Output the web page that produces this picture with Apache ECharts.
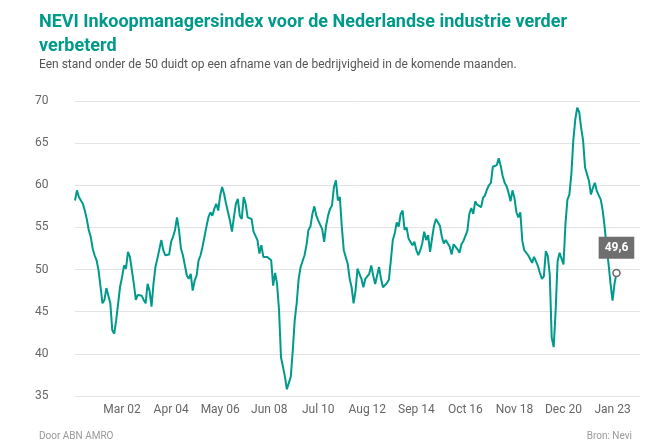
<!DOCTYPE html>
<html>
<head>
<meta charset="utf-8">
<script src="https://cdn.jsdelivr.net/npm/echarts@6/dist/echarts.min.js"></script>
<style>
  html, body { margin: 0; padding: 0; background: #fff; }
  #chart { width: 669px; height: 446px; }
</style>
</head>
<body>
<div id="chart"></div>
<script>
document.addEventListener('DOMContentLoaded', function() {

    const monthNames = ['Jan', 'Feb', 'Mar', 'Apr', 'May', 'Jun', 'Jul', 'Aug', 'Sep', 'Oct', 'Nov', 'Dec'];
    const startYear = 2000;
    const startMonth = 2; // March
    const extraMonths = 12; // empty room right of the line

    // NEVI PMI, monthly from Mar 2000
    const pmi = [
        58.2, 59.4, 58.6, 58.2, 57.8, 57.0, 56.0, 54.7, 53.9, 52.5, 51.7, 51.1, 49.9, 48.0, 46.0, 46.4, 47.8, 47.8, 46.0, 42.8,
        42.4, 44.0, 46.0, 48.0, 49.1, 50.5, 50.1, 52.1, 51.5, 51.3, 48.3, 46.4, 47.0, 46.8, 46.9, 46.4, 46.0, 48.3, 47.5, 45.6,
        48.3, 50.3, 51.3, 51.5, 53.5, 52.3, 51.7, 51.7, 51.8, 53.3, 53.9, 54.7, 56.2, 54.7, 52.5, 51.7, 51.5, 49.3, 48.9, 49.5,
        47.5, 48.7, 49.3, 51.1, 51.7, 52.7, 53.9, 55.1, 56.2, 56.8, 56.4, 57.2, 57.8, 57.0, 58.8, 59.8, 59.0, 57.8, 56.8, 55.8,
        54.5, 56.2, 57.8, 58.4, 56.4, 56.0, 58.6, 57.8, 56.2, 56.2, 56.0, 54.5, 54.3, 53.5, 51.9, 52.9, 51.5, 51.5, 51.5, 51.3,
        51.1, 48.1, 49.6, 48.3, 45.2, 39.6, 38.5, 37.3, 35.8, 35.6, 37.3, 40.4, 44.0, 46.0, 48.9, 50.3, 50.5, 51.7, 52.9, 54.7,
        55.1, 56.6, 57.5, 56.4, 55.8, 55.6, 54.8, 53.3, 55.2, 56.4, 57.2, 57.6, 59.8, 60.6, 58.2, 58.6, 55.1, 52.3, 51.5, 50.7,
        48.9, 47.9, 46.0, 47.5, 50.1, 49.5, 48.9, 47.9, 48.9, 49.1, 49.5, 50.5, 49.3, 48.3, 49.3, 50.3, 48.9, 47.9, 48.1, 48.4,
        48.8, 51.1, 53.5, 54.3, 55.6, 55.1, 56.6, 57.0, 54.7, 55.0, 53.7, 53.5, 52.9, 53.3, 52.3, 51.7, 52.3, 53.1, 54.5, 53.5,
        54.1, 52.1, 53.7, 55.2, 56.0, 56.2, 55.2, 53.9, 53.1, 53.5, 53.3, 52.7, 51.8, 53.0, 53.0, 52.4, 52.0, 53.0, 53.4, 53.3,
        54.6, 56.6, 57.3, 56.6, 58.1, 57.7, 57.6, 57.4, 58.5, 58.8, 59.5, 60.0, 60.3, 62.2, 62.1, 62.4, 63.2, 62.3, 61.1, 60.3,
        59.9, 59.1, 58.1, 59.4, 58.5, 56.8, 56.2, 56.8, 53.4, 52.3, 52.2, 51.7, 51.6, 50.8, 51.5, 51.5, 50.4, 49.6, 48.9, 49.2,
        52.2, 51.6, 49.4, 41.9, 40.8, 45.1, 51.0, 52.0, 51.8, 50.6, 55.4, 58.3, 58.9, 61.3, 65.3, 67.8, 69.2, 68.7, 66.8, 65.3,
        62.1, 62.1, 60.5, 58.9, 59.7, 60.3, 59.3, 59.3, 58.3, 57.0, 55.0, 52.6, 50.6, 48.3, 46.3, 48.3, 49.6
    ];

    const months = [];
    for (let i = 0; i < pmi.length + extraMonths; i++) {
        const m = startMonth + i;
        const y = startYear + Math.floor(m / 12);
        months.push(monthNames[m % 12] + ' ' + String(y % 100).padStart(2, '0'));
    }

    const teal = '#009a8a';
    const last = pmi.length - 1;

    const seriesData = pmi.map((v, i) => i !== last ? v : {
        value: v,
        symbol: 'circle',
        symbolSize: 7,
        itemStyle: { color: '#fff', borderColor: '#666', borderWidth: 1.5 },
        label: {
            show: true,
            position: 'top',
            distance: 10,
            formatter: () => String(v).replace('.', ','),
            backgroundColor: '#6f6f6f',
            color: '#fff',
            fontWeight: 'bold',
            fontSize: 12,
            padding: [5, 6]
        }
    });

    const chart = echarts.init(document.getElementById('chart'));
    chart.setOption({
        animation: false,
        textStyle: { fontFamily: 'Roboto, Arial, sans-serif' },
        title: [{
            text: 'NEVI Inkoopmanagersindex voor de Nederlandse industrie verder\nverbeterd',
            left: 34, top: 5,
            textStyle: { color: teal, fontSize: 18, fontWeight: 'bold', lineHeight: 24 }
        }, {
            text: 'Een stand onder de 50 duidt op een afname van de bedrijvigheid in de komende maanden.',
            left: 34, top: 54,
            textStyle: { color: '#555', fontSize: 12, fontWeight: 'normal' }
        }, {
            text: 'Door ABN AMRO',
            left: 34, top: 426,
            textStyle: { color: '#999', fontSize: 10, fontWeight: 'normal' }
        }, {
            text: 'Bron: Nevi',
            right: 32, top: 426,
            textStyle: { color: '#999', fontSize: 10, fontWeight: 'normal' }
        }],
        grid: { left: 75, right: 29, top: 101, bottom: 50 },
        xAxis: {
            type: 'category',
            data: months,
            boundaryGap: false,
            axisLine: { show: false },
            axisTick: { show: false },
            axisLabel: {
                color: '#666',
                fontSize: 12,
                margin: 8,
                interval: (i) => i >= 24 && i <= last && (i - 24) % 25 === 0
            }
        },
        yAxis: {
            type: 'value',
            min: 35, max: 70, interval: 5,
            axisLabel: { color: '#666', fontSize: 12, align: 'left', margin: 40 },
            splitLine: { lineStyle: { color: '#e3e3e3' } }
        },
        series: [{
            type: 'line',
            data: seriesData,
            showSymbol: true,
            symbol: 'circle',
            symbolSize: (v, p) => p.dataIndex === last ? 7 : 0,
            lineStyle: { color: teal, width: 2 },
            itemStyle: { color: teal }
        }]
    });

});
</script>
</body>
</html>
